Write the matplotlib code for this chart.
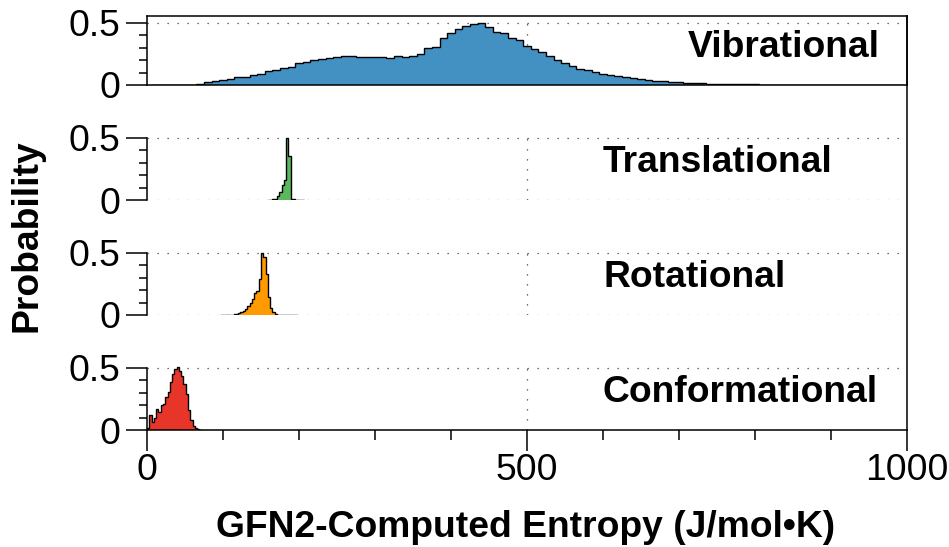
import numpy as np
import matplotlib
matplotlib.use('Agg')
import matplotlib.pyplot as plt
from matplotlib.lines import Line2D
from matplotlib.ticker import MultipleLocator, FixedLocator

plt.rcParams['font.family'] = ['Liberation Sans', 'DejaVu Sans']

# vibrational: bins 10 wide, centres 10..1000
vib_edges = np.arange(5, 1006, 10)
vib_vals = [0, 0, 0.001, 0.001, 0.002, 0.004, 0.012, 0.024, 0.030, 0.044,
            0.050, 0.062, 0.068, 0.083, 0.090, 0.114, 0.122, 0.136, 0.144, 0.178,
            0.186, 0.202, 0.208, 0.217, 0.222, 0.232, 0.236, 0.226, 0.225, 0.226,
            0.224, 0.220, 0.229, 0.224, 0.232, 0.250, 0.298, 0.305, 0.376, 0.418,
            0.450, 0.476, 0.489, 0.496, 0.468, 0.422, 0.414, 0.376, 0.360, 0.312,
            0.290, 0.266, 0.236, 0.202, 0.176, 0.153, 0.132, 0.118, 0.101, 0.090,
            0.081, 0.076, 0.066, 0.056, 0.050, 0.041, 0.036, 0.032, 0.027, 0.024,
            0.020, 0.017, 0.014, 0.012, 0.009, 0.008, 0.007, 0.007, 0.006, 0.005,
            0.004, 0.003, 0.003, 0.002, 0.002, 0.002, 0.001, 0.001, 0.001, 0.001,
            0, 0, 0, 0, 0, 0, 0, 0, 0, 0]

# translational: bins 3 wide from 159
trans_edges = np.arange(159, 208, 3)
trans_vals = [0.002, 0.003, 0.005, 0.011, 0.032, 0.066, 0.119, 0.159, 0.500,
              0.357, 0.011, 0.005, 0.003, 0.003, 0.002, 0.002]

# rotational: bins 3 wide from 96
rot_edges = np.arange(96, 199, 3)
rot_vals = [0.001, 0.001, 0.002, 0.002, 0.003, 0.004, 0.006, 0.010, 0.014, 0.022,
            0.030, 0.050, 0.072, 0.095, 0.125, 0.175, 0.190, 0.290, 0.500, 0.463,
            0.330, 0.146, 0.053, 0.026, 0.008, 0.004, 0.002, 0.002, 0.002, 0.002,
            0.001, 0.001, 0.001, 0.001]

# conformational: bins 3 wide from 0
conf_edges = np.arange(0, 73, 3)
conf_vals = [0.020, 0.120, 0.066, 0.100, 0.172, 0.146, 0.198, 0.212, 0.265, 0.304,
             0.384, 0.450, 0.489, 0.503, 0.476, 0.437, 0.370, 0.291, 0.159, 0.079,
             0.032, 0.013, 0.005, 0.002]

names = ['Vibrational', 'Translational', 'Rotational', 'Conformational']
colors = ['#4390c3', '#5cb85c', '#ff9a00', '#e8352a']
edges_list = [vib_edges, trans_edges, rot_edges, conf_edges]
vals_list = [vib_vals, trans_vals, rot_vals, conf_vals]
label_x = [712, 600, 600, 600]

W, H = 949, 547
fig = plt.figure(figsize=(W / 100, H / 100), dpi=100)

FS = 26.8
x0, x1 = 147, 907
zero_y = [85, 200, 315, 430]
ytop = 0.555
px_per_unit = 124.6
ax_h = ytop * px_per_unit

lw = 1.1
axes = []
for i in range(4):
    ax = fig.add_axes([x0 / W, 1 - zero_y[i] / H, (x1 - x0) / W, ax_h / H])
    ax.set_xlim(0, 1000)
    ax.set_ylim(0, ytop)
    ax.patch.set_alpha(0)

    # dotted grid
    for yv in (0, 0.5):
        ax.axhline(yv, color='0.25', lw=0.9, ls=(0, (1, 7)), zorder=0)
    ax.axvline(500, color='0.25', lw=0.9, ls=(0, (1, 7)), zorder=0)

    ax.stairs(vals_list[i], edges_list[i], fill=True, facecolor=colors[i],
              edgecolor='black', linewidth=1.0, zorder=2)

    ax.text(label_x[i], 0.222, names[i], fontsize=FS, fontweight='bold',
            ha='left', va='baseline')

    for s in ax.spines.values():
        s.set_linewidth(lw)
    if i > 0:
        ax.spines['top'].set_visible(False)
        ax.spines['right'].set_visible(False)
        ax.spines['left'].set_bounds(0, 0.5)
        if i < 3:
            ax.spines['bottom'].set_visible(False)

    ax.yaxis.set_major_locator(FixedLocator([0, 0.5]))
    ax.yaxis.set_minor_locator(FixedLocator([0.1, 0.2, 0.3, 0.4]))
    ax.set_yticklabels(['0', '0.5'])
    ax.tick_params(axis='y', which='major', direction='out', length=15,
                   width=lw, labelsize=FS, pad=4)
    ax.tick_params(axis='y', which='minor', direction='out', length=5.8, width=lw)

    if i < 3:
        ax.tick_params(axis='x', which='both', bottom=False, labelbottom=False)
    else:
        ax.xaxis.set_major_locator(FixedLocator([0, 500, 1000]))
        ax.xaxis.set_minor_locator(MultipleLocator(100))
        ax.tick_params(axis='x', which='major', direction='out', length=15,
                       width=lw, labelsize=FS, pad=1.5)
        ax.tick_params(axis='x', which='minor', direction='out', length=7, width=lw)
    axes.append(ax)

# right border running through all panels
fig.add_artist(Line2D([x1 / W, x1 / W], [1 - (zero_y[0] - ax_h) / H, 1 - zero_y[3] / H],
                      transform=fig.transFigure, color='black', lw=lw))

fig.text(526 / W, 1 - 537 / H, 'GFN2-Computed Entropy (J/mol\u2022K)',
         fontsize=FS, fontweight='bold', ha='center', va='baseline')
fig.text(27 / W, 1 - 236 / H, 'Probability', fontsize=FS, fontweight='bold',
         rotation=90, ha='center', va='center')

fig.savefig('out.png', dpi=100)
